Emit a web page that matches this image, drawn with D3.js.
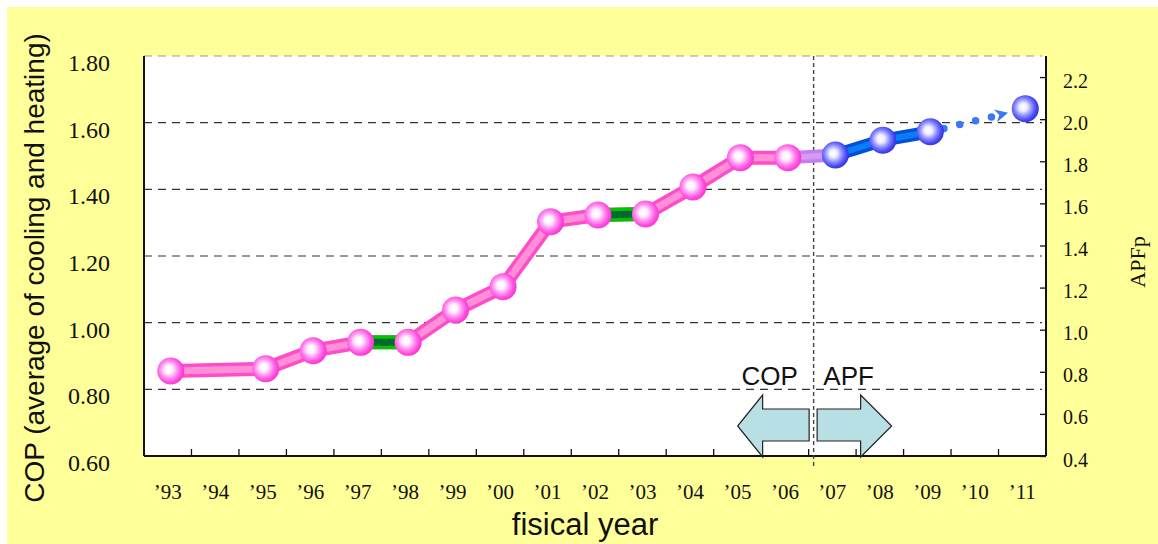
<!DOCTYPE html>
<html>
<head>
<meta charset="utf-8">
<script src="https://cdn.jsdelivr.net/npm/d3@7"></script>
<style>
  html, body { margin: 0; padding: 0; background: #ffffff; }
  svg { display: block; }
</style>
</head>
<body>
<svg id="chart" width="1158" height="544"></svg>
<script>
// Fiscal years on the horizontal axis
const years = ["’93","’94","’95","’96","’97","’98","’99","’00","’01","’02",
               "’03","’04","’05","’06","’07","’08","’09","’10","’11"];

// COP (average of cooling and heating), left axis; null = no value that year
const copValues = [0.855, null, 0.862, 0.916, 0.941, 0.941, 1.038, 1.108, 1.303, 1.323,
                   1.326, 1.407, 1.495, 1.495, null, null, null, null, null];

// APFp, right axis
const apfValues = [null, null, null, null, null, null, null, null, null, null,
                   null, null, null, null, 1.83, 1.90, 1.94, null, 2.05];

const copTicks = [0.60, 0.80, 1.00, 1.20, 1.40, 1.60, 1.80];
const apfTicks = [0.4, 0.6, 0.8, 1.0, 1.2, 1.4, 1.6, 1.8, 2.0, 2.2];

// Year spans drawn in green on the COP line
const greenSpans = [["’97","’98"], ["’02","’03"]];
// Link between the last COP year and the first APF year
const bridgeSpan = ["’06", "’07"];
// Projected span (dotted)
const projectedSpan = ["’09", "’11"];

const W = 1158, H = 544;
const M = { left: 144, right: 1046, top: 56, bottom: 456 };

const svg = d3.select("#chart");
const defs = svg.append("defs");

// Sphere-like marker fills
function sphere(id, stops) {
  const g = defs.append("radialGradient").attr("id", id)
    .attr("cx", "44%").attr("cy", "46%").attr("r", "58%")
    .attr("fx", "42%").attr("fy", "44%");
  stops.forEach(([o, c]) => g.append("stop").attr("offset", o).attr("stop-color", c));
}
sphere("pinkBall", [[0, "#ffffff"], [0.25, "#fff2fc"], [0.55, "#ff8ff0"], [0.8, "#ff4de0"], [1, "#ff2fcc"]]);
sphere("blueBall", [[0, "#ffffff"], [0.25, "#eeeeff"], [0.55, "#8c8cff"], [0.8, "#4b4bf2"], [1, "#2c2ce0"]]);

// Background
svg.append("rect").attr("x", 0).attr("y", 0).attr("width", W).attr("height", H).attr("fill", "#ffffff");
svg.append("rect").attr("x", 7).attr("y", 7).attr("width", W - 7).attr("height", H - 7).attr("fill", "#ffff99");
svg.append("rect").attr("x", M.left).attr("y", M.top)
  .attr("width", M.right - M.left).attr("height", M.bottom - M.top).attr("fill", "#ffffff");

// Scales
const x = d3.scaleBand().domain(years).range([M.left, M.right]);
const yL = d3.scaleLinear().domain([0.6, 1.8]).range([M.bottom, M.top]);
const yR = d3.scaleLinear().domain([0.4, 2.3]).range([M.bottom, M.top]);
const cx = yr => x(yr) + x.bandwidth() / 2 + 3;

// Grid lines
svg.append("g").selectAll("line")
  .data(copTicks.filter(t => t > 0.6))
  .join("line")
  .attr("x1", M.left).attr("x2", M.right - 4)
  .attr("y1", d => yL(d)).attr("y2", d => yL(d))
  .attr("stroke", d => d === 1.8 ? "#9a9a9a" : "#333333")
  .attr("stroke-width", 1.2)
  .attr("stroke-dasharray", "8,6");

// Left axis labels
const axL = svg.append("g").attr("transform", `translate(${M.left},0)`)
  .call(d3.axisLeft(yL).tickValues(copTicks).tickSize(0).tickPadding(34)
    .tickFormat(d3.format(".2f")));
axL.select(".domain").remove();
axL.selectAll("text").attr("font-family", "'Liberation Serif', serif")
  .attr("font-size", 24).attr("fill", "#111").attr("dy", "0.6em");

// Right axis (ticks pointing inward)
const axR = svg.append("g").attr("transform", `translate(${M.right},0)`)
  .call(d3.axisRight(yR).tickValues(apfTicks).tickSize(-6).tickPadding(17)
    .tickFormat(d3.format(".1f")));
axR.select(".domain").remove();
axR.selectAll("line").attr("stroke", "#111").attr("stroke-width", 1.3);
axR.selectAll("text").attr("font-family", "'Liberation Serif', serif")
  .attr("font-size", 20).attr("fill", "#111").attr("dy", "0.5em");

// Bottom axis labels and inward ticks at band boundaries
const axB = svg.append("g").attr("transform", `translate(0,${M.bottom})`)
  .call(d3.axisBottom(x).tickSize(0).tickPadding(28));
axB.select(".domain").remove();
axB.selectAll("text").attr("font-family", "'Liberation Serif', serif")
  .attr("font-size", 21).attr("fill", "#111");
svg.append("g").selectAll("line")
  .data(years.slice(1))
  .join("line")
  .attr("x1", d => x(d)).attr("x2", d => x(d))
  .attr("y1", M.bottom).attr("y2", M.bottom - 7)
  .attr("stroke", "#111").attr("stroke-width", 1.3);

// Plot frame
const frame = svg.append("g").attr("stroke", "#111").attr("stroke-width", 2).attr("fill", "none");
frame.append("line").attr("x1", M.left).attr("x2", M.left).attr("y1", M.top).attr("y2", M.bottom);
frame.append("line").attr("x1", M.left).attr("x2", M.right).attr("y1", M.bottom).attr("y2", M.bottom);
frame.append("line").attr("x1", M.right).attr("x2", M.right).attr("y1", M.top).attr("y2", M.bottom);

// Divider between COP era and APF era
const divX = x(bridgeSpan[1]) + 5;
svg.append("line")
  .attr("x1", divX).attr("x2", divX).attr("y1", M.top).attr("y2", M.bottom + 10)
  .attr("stroke", "#444").attr("stroke-width", 1.4).attr("stroke-dasharray", "4,3");

// Arrows marking the two eras
const aTop = M.bottom - 61, sTop = M.bottom - 47, sBot = M.bottom - 15, aBot = M.bottom + 1;
const aMid = (aTop + aBot) / 2;
const leftArrow = [[divX - 4.5, sTop], [divX - 51, sTop], [divX - 51, aTop], [divX - 76, aMid],
                   [divX - 51, aBot], [divX - 51, sBot], [divX - 4.5, sBot]];
const rightArrow = [[divX + 3.5, sTop], [divX + 47, sTop], [divX + 47, aTop], [divX + 78, aMid],
                    [divX + 47, aBot], [divX + 47, sBot], [divX + 3.5, sBot]];
svg.append("g").selectAll("polygon")
  .data([leftArrow, rightArrow])
  .join("polygon")
  .attr("points", d => d.map(p => p.join(",")).join(" "))
  .attr("fill", "#b8dfe3").attr("stroke", "#222").attr("stroke-width", 1.2)
  .attr("stroke-linejoin", "miter");

svg.append("text").attr("x", divX - 44).attr("y", 385).attr("text-anchor", "middle")
  .attr("font-family", "'Liberation Sans', Arial, sans-serif").attr("font-size", 26)
  .attr("fill", "#111").text("COP");
svg.append("text").attr("x", divX + 35).attr("y", 385).attr("text-anchor", "middle")
  .attr("font-family", "'Liberation Sans', Arial, sans-serif").attr("font-size", 26)
  .attr("fill", "#111").text("APF");

// Series points
const copPts = years.map((yr, i) => ({ yr, v: copValues[i] })).filter(d => d.v != null)
  .map(d => ({ yr: d.yr, v: d.v, px: cx(d.yr), py: yL(d.v) }));
const apfPts = years.map((yr, i) => ({ yr, v: apfValues[i] })).filter(d => d.v != null)
  .map(d => ({ yr: d.yr, v: d.v, px: cx(d.yr), py: yR(d.v) }));

const line = d3.line().x(d => d.px).y(d => d.py);
const lines = svg.append("g").attr("fill", "none")
  .attr("stroke-linejoin", "round").attr("stroke-linecap", "butt");

function thickLine(pts, outer, inner, wOuter, wInner) {
  lines.append("path").attr("d", line(pts)).attr("stroke", outer).attr("stroke-width", wOuter);
  lines.append("path").attr("d", line(pts)).attr("stroke", inner).attr("stroke-width", wInner);
}

// COP line
thickLine(copPts, "#ff4cc8", "#ff90d8", 14, 7);
// Green spans
greenSpans.forEach(([a, b]) => {
  const seg = copPts.filter(d => d.yr === a || d.yr === b);
  thickLine(seg, "#00c400", "#006a2e", 14, 7);
});
// Bridge from the COP line to the APF line
const bridge = [copPts.find(d => d.yr === bridgeSpan[0]), apfPts.find(d => d.yr === bridgeSpan[1])];
thickLine(bridge, "#c37ef0", "#d49af5", 13, 6);

// APF line (measured years)
const iProjA = apfPts.findIndex(d => d.yr === projectedSpan[0]);
const apfMeasured = apfPts.slice(0, iProjA + 1);
thickLine(apfMeasured, "#0050d8", "#0a7cf8", 13, 6);

// Projected dotted segment with chevron
const p0 = apfPts.find(d => d.yr === projectedSpan[0]);
const p1 = apfPts.find(d => d.yr === projectedSpan[1]);
const dx = p1.px - p0.px, dy = p1.py - p0.py;
const len = Math.hypot(dx, dy), ux = dx / len, uy = dy / len;
const at = t => [p0.px + ux * t, p0.py + uy * t];
lines.append("path")
  .attr("d", d3.line()([at(0), at(64)]))
  .attr("stroke", "#3a78f5").attr("stroke-width", 7.5)
  .attr("stroke-linecap", "round").attr("stroke-dasharray", "0,16.3").attr("stroke-dashoffset", -14);
const nx = -uy, ny = ux;
const tip = at(80), back = 67, notch = 71;
const chev = [tip,
  [p0.px + ux * back + nx * 6.5, p0.py + uy * back + ny * 6.5],
  at(notch),
  [p0.px + ux * back - nx * 6.5, p0.py + uy * back - ny * 6.5]];
svg.append("polygon").attr("points", chev.map(p => p.join(",")).join(" "))
  .attr("fill", "#3a78f5");

// Markers
svg.append("g").selectAll("circle").data(copPts).join("circle")
  .attr("cx", d => d.px).attr("cy", d => d.py).attr("r", 13.5)
  .attr("fill", "url(#pinkBall)");
svg.append("g").selectAll("circle").data(apfPts).join("circle")
  .attr("cx", d => d.px).attr("cy", d => d.py).attr("r", 13.5)
  .attr("fill", "url(#blueBall)");

// Axis titles
svg.append("text")
  .attr("transform", "translate(44,268) rotate(-90)")
  .attr("text-anchor", "middle")
  .attr("font-family", "'Liberation Sans', Arial, sans-serif").attr("font-size", 28)
  .attr("fill", "#111").text("COP (average of cooling and heating)");
svg.append("text")
  .attr("transform", "translate(1145,262) rotate(-90)")
  .attr("text-anchor", "middle")
  .attr("font-family", "'Liberation Serif', serif").attr("font-size", 22)
  .attr("fill", "#111").text("APFp");
svg.append("text")
  .attr("x", 585).attr("y", 535).attr("text-anchor", "middle")
  .attr("font-family", "'Liberation Sans', Arial, sans-serif").attr("font-size", 31)
  .attr("fill", "#111").text("fisical year");
</script>
</body>
</html>
